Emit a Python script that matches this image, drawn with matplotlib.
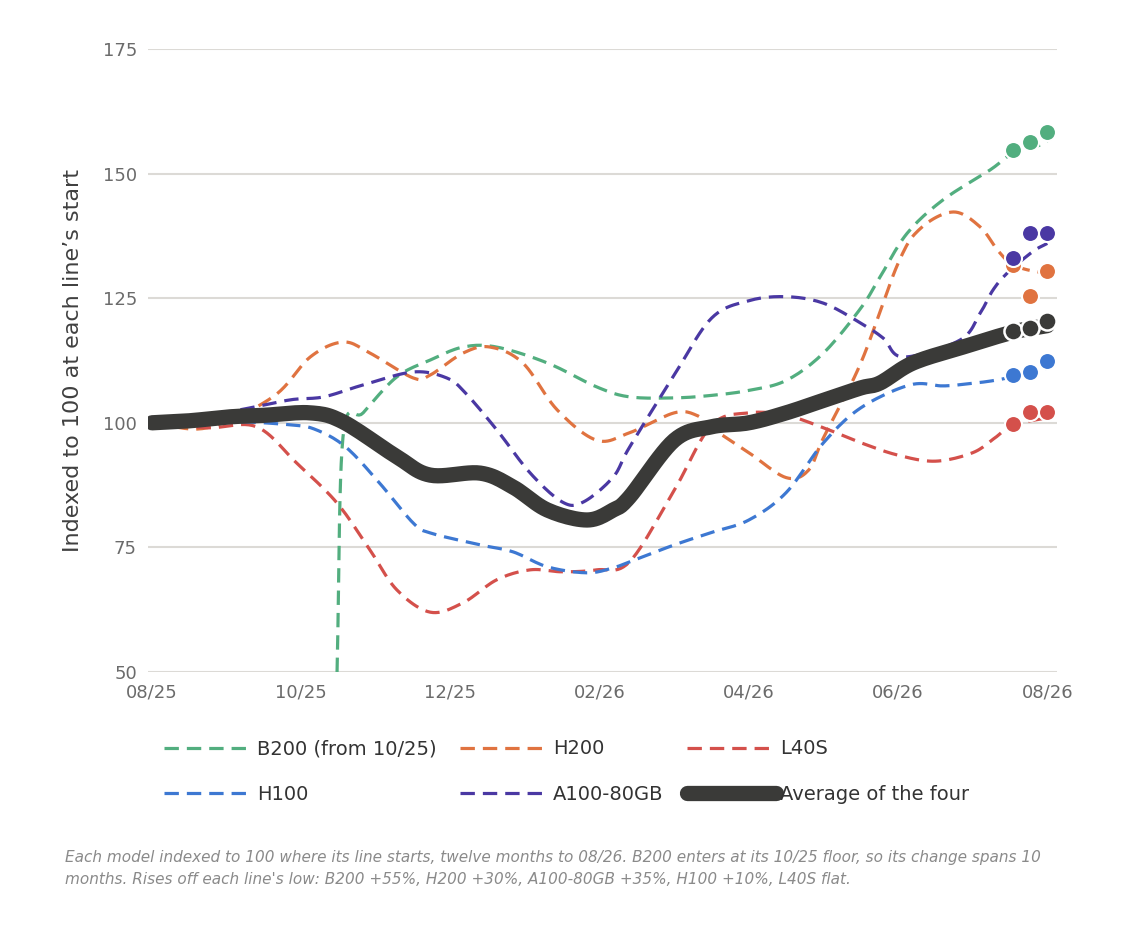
import numpy as np
import matplotlib.pyplot as plt

# month index 0 = 08/25 ... 12 = 08/26
b200_m = [2.48, 2.56, 2.83, 3.28, 3.73, 4.17, 4.62, 5.3, 5.96, 6.4, 7.0, 7.5, 8.0, 8.5, 9.0, 9.5, 9.76, 10.12, 10.6, 11.23, 11.54, 11.9, 12.0]
b200_v = [50, 97.2, 102, 109.2, 112.6, 115.2, 115.2, 112, 107.2, 105.2, 105, 105.5, 106.5, 108.5, 114, 123, 129.3, 138, 144.7, 150.7, 154.1, 155.7, 156.5]
h200_m = [0, 0.74, 1.62, 2.12, 2.56, 2.92, 3.5, 3.73, 4.17, 4.53, 4.97, 5.43, 5.96, 6.4, 7.0, 7.3, 7.5, 8.0, 8.5, 8.8, 9.0, 9.5, 10.0, 10.3, 10.74, 11.1, 11.33, 11.54, 11.86, 12.0]
h200_v = [100, 99, 105.2, 113.2, 116.2, 114, 109, 109.6, 114, 115.2, 112, 102.6, 96.5, 98, 102, 101.5, 99, 94, 89, 90.5, 97, 112, 132, 139, 142.3, 139.3, 134.7, 131.7, 130.3, 130.5]
l40s_m = [0, 0.74, 1.4, 1.94, 2.48, 2.92, 3.28, 3.73, 4.17, 4.62, 5.07, 5.5, 5.96, 6.4, 7.0, 7.5, 8.0, 8.5, 9.0, 9.5, 10.0, 10.5, 11.0, 11.3, 11.54, 12.0]
l40s_v = [100, 99, 99.2, 91.9, 83.9, 74.5, 66.5, 62, 63.9, 68.5, 70.5, 70.1, 70.5, 72.1, 86.5, 99.5, 102, 101.5, 99, 96, 93.5, 92.3, 94, 97, 99.6, 101]
h100_m = [0, 1.0, 1.85, 2.2, 2.6, 3.05, 3.5, 3.73, 4.4, 4.84, 5.3, 5.83, 6.18, 6.4, 7.0, 7.5, 8.0, 8.5, 9.0, 9.5, 10.16, 10.6, 10.92, 11.33, 11.9, 12.0]
h100_v = [100, 100.3, 99.6, 98.6, 95.1, 87.9, 79.9, 77.9, 75.5, 74.1, 71.1, 69.9, 70.9, 72.1, 75.5, 78, 80.5, 86, 96, 103, 107.6, 107.4, 107.8, 108.6, 110.4, 111]
a100_m = [0, 0.5, 1.18, 1.85, 2.3, 2.83, 3.5, 3.95, 4.2, 4.62, 5.07, 5.5, 5.78, 6.18, 6.4, 7.0, 7.5, 8.0, 8.5, 9.0, 9.5, 9.8, 10.07, 10.83, 11.1, 11.27, 11.46, 11.8, 12.0]
a100_v = [100, 100.8, 102.6, 104.6, 105.2, 107.6, 110.2, 109, 106, 98.6, 89.9, 84.1, 84.1, 89.1, 95.1, 109.6, 121, 124.5, 125.3, 124, 120, 117, 113.2, 116.6, 122, 126.6, 130, 134.3, 136]
avg_m = [0, 0.5, 1.05, 1.5, 2.12, 2.56, 3.28, 3.73, 4.4, 4.84, 5.3, 5.83, 6.18, 6.4, 7.0, 7.5, 8.0, 8.5, 9.0, 9.5, 9.76, 10.2, 10.87, 11.54, 12.0]
avg_v = [100, 100.4, 101.2, 101.5, 102, 100.2, 93.2, 89.5, 89.9, 87.1, 82.5, 80.5, 82.5, 85.1, 96.5, 99.2, 100, 102, 104.5, 107, 108, 112, 115.2, 118.2, 119.5]

# end-point markers
mk_m = [11.54, 11.77, 12.0]
b200_pts = [154.7, 156.3, 158.3]
h200_pts = [131.7, 125.4, 130.5]
l40s_pts = [99.8, 102.2, 102.2]
h100_pts = [109.6, 110.2, 112.4]
a100_pts = [133, 138, 138]
avg_pts = [118.4, 119, 120.4]

ticks = [0, 2, 4, 6, 8, 10, 12]
tick_labels = ['08/25', '10/25', '12/25', '02/26', '04/26', '06/26', '08/26']


def smooth(x, y, n=12):
    # catmull-rom through the read points, for a smoothed look
    x = np.asarray(x, float); y = np.asarray(y, float)
    px = np.concatenate([[2*x[0]-x[1]], x, [2*x[-1]-x[-2]]])
    py = np.concatenate([[2*y[0]-y[1]], y, [2*y[-1]-y[-2]]])
    ox, oy = [], []
    t = np.linspace(0, 1, n, endpoint=False)
    for i in range(1, len(px)-2):
        for arr, out in ((px, ox), (py, oy)):
            p0, p1, p2, p3 = arr[i-1:i+3]
            out.extend(0.5*((2*p1) + (-p0+p2)*t + (2*p0-5*p1+4*p2-p3)*t**2 + (-p0+3*p1-3*p2+p3)*t**3))
    ox.append(x[-1]); oy.append(y[-1])
    return ox, oy


fig = plt.figure(figsize=(11.24, 9.52), dpi=100)
ax = fig.add_axes([148/1124, 1-672/952, (1057-148)/1124, (672-49)/952])

series = [
    ('B200 (from 10/25)', b200_m, b200_v, b200_pts, '#52ae7f'),
    ('H200', h200_m, h200_v, h200_pts, '#e07340'),
    ('L40S', l40s_m, l40s_v, l40s_pts, '#d4504b'),
    ('H100', h100_m, h100_v, h100_pts, '#3d78d2'),
    ('A100-80GB', a100_m, a100_v, a100_pts, '#4a38a3'),
]
handles = {}
for name, m, v, pts, c in series:
    sx, sy = smooth(m, v)
    h, = ax.plot(sx, sy, color=c, lw=2.3, ls=(0, (4.5, 2.5)), label=name, zorder=3)
    ax.scatter(mk_m, pts, s=150, color=c, edgecolor='white', linewidth=1.5, zorder=5)
    handles[name] = h

sx, sy = smooth(avg_m, avg_v)
h, = ax.plot(sx, sy, color='#3a3a38', lw=11, solid_capstyle='round', label='Average of the four', zorder=4)
ax.scatter(mk_m, avg_pts, s=170, color='#3a3a38', edgecolor='white', linewidth=1.8, zorder=6)
handles['Average of the four'] = h

ax.set_xlim(-0.054, 12.13)
ax.set_ylim(50, 175)
ax.set_yticks([50, 75, 100, 125, 150, 175])
ax.set_xticks(ticks)
ax.set_xticklabels(tick_labels)
ax.grid(axis='y', color='#dcdad6', lw=1.5)
ax.set_axisbelow(True)
for s in ax.spines.values():
    s.set_visible(False)
ax.tick_params(length=0, labelsize=13, colors='#6b6b6b', pad=8)
ax.set_ylabel("Indexed to 100 at each line\u2019s start", fontsize=16, color='#404040', labelpad=14)

order = ['B200 (from 10/25)', 'H100', 'H200', 'A100-80GB', 'L40S', 'Average of the four']
fig.legend([handles[k] for k in order], order, ncol=3, loc='upper left',
           bbox_to_anchor=(146/1124, 1-722/952), frameon=False, fontsize=14,
           handlelength=4.6, handletextpad=0.2, columnspacing=1.2, labelspacing=1.35,
           labelcolor='#333333')

fig.text(65/1124, 1-850/952,
         "Each model indexed to 100 where its line starts, twelve months to 08/26. B200 enters at its 10/25 floor, so its change spans 10\n"
         "months. Rises off each line's low: B200 +55%, H200 +30%, A100-80GB +35%, H100 +10%, L40S flat.",
         fontsize=11, style='italic', color='#8a8a8a', va='top', linespacing=1.6)

fig.savefig('out.png', dpi=100)
